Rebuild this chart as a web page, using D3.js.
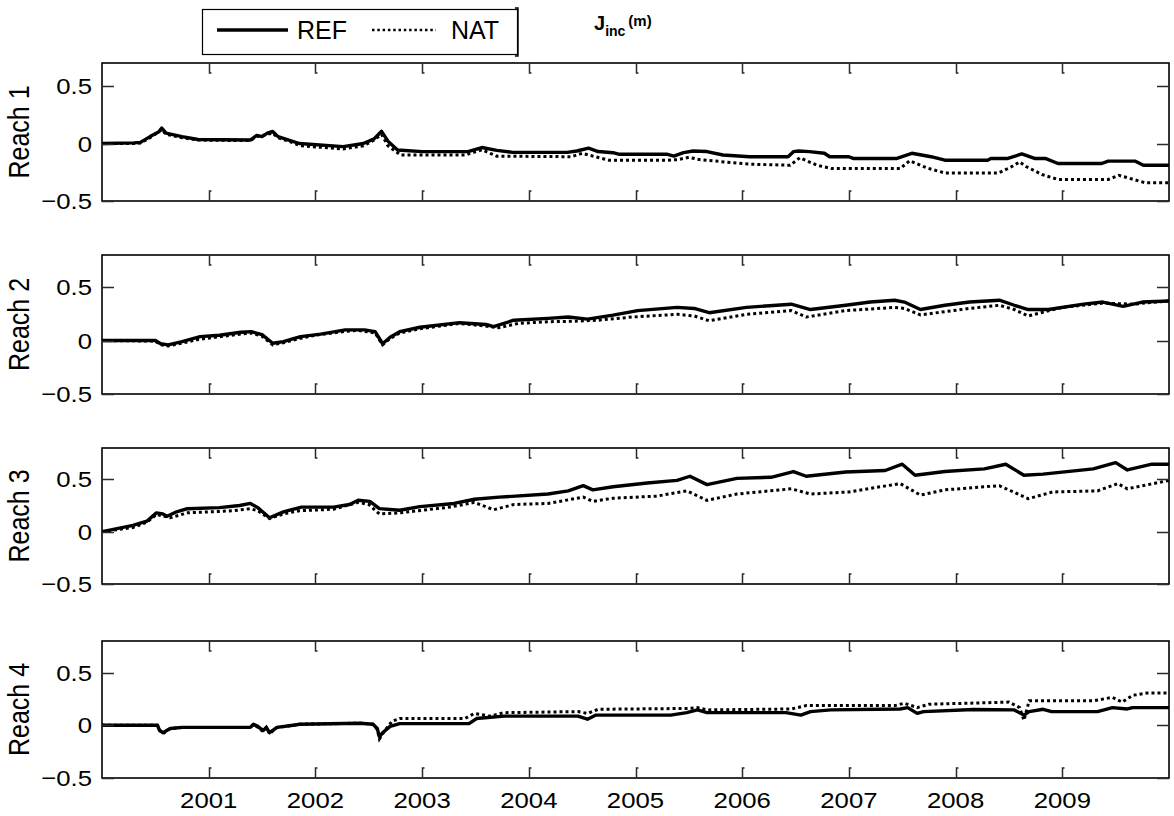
<!DOCTYPE html>
<html>
<head>
<meta charset="utf-8">
<script src="https://cdn.jsdelivr.net/npm/d3@7"></script>
<style>
  body { margin: 0; background: #fff; }
  svg { display: block; }
</style>
</head>
<body>
<svg id="chart" width="1174" height="816"></svg>
<script>
// ---- data -------------------------------------------------------------
const yearTicks = [2001, 2002, 2003, 2004, 2005, 2006, 2007, 2008, 2009];
const valueTicks = [-0.5, 0, 0.5];
const reachLabels = ["Reach 1", "Reach 2", "Reach 3", "Reach 4"];
const seriesNames = ["REF", "NAT"];

// [decimal year, J_inc (m)]
const reach1Ref = [[2000.00,0],[2000.30,0.005],[2000.36,0.01],[2000.45,0.06],[2000.53,0.1],[2000.56,0.135],[2000.60,0.09],[2000.75,0.06],[2000.90,0.035],[2001.39,0.03],[2001.45,0.07],[2001.50,0.06],[2001.55,0.09],[2001.60,0.105],[2001.65,0.06],[2001.75,0.03],[2001.85,0.0],[2002.26,-0.027],[2002.45,0.0],[2002.55,0.04],[2002.62,0.106],[2002.68,0.02],[2002.77,-0.056],[2003.00,-0.071],[2003.43,-0.071],[2003.56,-0.035],[2003.70,-0.06],[2003.85,-0.077],[2004.36,-0.077],[2004.45,-0.065],[2004.56,-0.041],[2004.65,-0.07],[2004.79,-0.08],[2004.85,-0.094],[2005.30,-0.094],[2005.36,-0.11],[2005.45,-0.08],[2005.54,-0.065],[2005.67,-0.07],[2005.82,-0.1],[2006.07,-0.115],[2006.43,-0.115],[2006.48,-0.071],[2006.53,-0.065],[2006.63,-0.071],[2006.77,-0.085],[2006.82,-0.115],[2007.00,-0.115],[2007.04,-0.13],[2007.45,-0.13],[2007.59,-0.085],[2007.77,-0.115],[2007.90,-0.145],[2008.30,-0.145],[2008.33,-0.13],[2008.49,-0.13],[2008.62,-0.091],[2008.74,-0.13],[2008.84,-0.13],[2008.96,-0.174],[2009.37,-0.174],[2009.43,-0.153],[2009.68,-0.153],[2009.76,-0.189],[2010.00,-0.189]];
const reach1Nat = [[2000.00,0],[2000.30,0.0],[2000.36,0.005],[2000.45,0.05],[2000.56,0.12],[2000.60,0.08],[2000.75,0.05],[2000.90,0.03],[2001.39,0.025],[2001.45,0.06],[2001.55,0.08],[2001.60,0.09],[2001.65,0.05],[2001.75,0.02],[2001.86,-0.02],[2002.26,-0.047],[2002.45,-0.02],[2002.55,0.03],[2002.62,0.08],[2002.68,-0.02],[2002.80,-0.1],[2003.40,-0.1],[2003.56,-0.055],[2003.70,-0.11],[2004.40,-0.115],[2004.50,-0.085],[2004.60,-0.11],[2004.75,-0.145],[2005.30,-0.145],[2005.40,-0.14],[2005.50,-0.12],[2005.60,-0.14],[2005.75,-0.153],[2006.07,-0.18],[2006.45,-0.189],[2006.54,-0.124],[2006.70,-0.189],[2006.84,-0.218],[2007.48,-0.218],[2007.57,-0.15],[2007.73,-0.212],[2007.90,-0.257],[2008.40,-0.257],[2008.52,-0.204],[2008.60,-0.16],[2008.66,-0.2],[2008.81,-0.27],[2008.96,-0.313],[2009.43,-0.313],[2009.53,-0.277],[2009.62,-0.3],[2009.78,-0.342],[2010.00,-0.342]];

const reach2Ref = [[2000.00,0],[2000.50,0],[2000.55,-0.03],[2000.62,-0.04],[2000.75,-0.01],[2000.92,0.037],[2001.10,0.05],[2001.30,0.078],[2001.40,0.083],[2001.50,0.055],[2001.60,-0.025],[2001.70,-0.01],[2001.86,0.037],[2002.05,0.06],[2002.28,0.1],[2002.46,0.1],[2002.56,0.083],[2002.63,-0.03],[2002.70,0.03],[2002.79,0.083],[2002.98,0.124],[2003.35,0.167],[2003.60,0.15],[2003.67,0.13],[2003.86,0.19],[2004.18,0.207],[2004.37,0.22],[2004.55,0.2],[2004.79,0.238],[2005.02,0.28],[2005.39,0.31],[2005.55,0.3],[2005.69,0.26],[2006.04,0.31],[2006.46,0.34],[2006.64,0.29],[2006.97,0.33],[2007.20,0.36],[2007.43,0.377],[2007.52,0.36],[2007.67,0.29],[2007.90,0.33],[2008.13,0.36],[2008.41,0.377],[2008.55,0.33],[2008.68,0.29],[2008.87,0.29],[2009.20,0.34],[2009.38,0.36],[2009.57,0.32],[2009.75,0.36],[2010.00,0.37]];
const reach2Nat = [[2000.00,0],[2000.50,-0.005],[2000.55,-0.04],[2000.62,-0.05],[2000.75,-0.025],[2000.90,0.01],[2001.10,0.035],[2001.30,0.06],[2001.40,0.07],[2001.50,0.04],[2001.60,-0.04],[2001.70,-0.02],[2001.86,0.02],[2002.00,0.05],[2002.28,0.085],[2002.40,0.095],[2002.56,0.07],[2002.63,-0.04],[2002.70,0.02],[2002.79,0.07],[2002.98,0.11],[2003.35,0.16],[2003.55,0.14],[2003.72,0.12],[2003.90,0.16],[2004.18,0.176],[2004.40,0.18],[2004.65,0.19],[2004.97,0.22],[2005.39,0.245],[2005.55,0.23],[2005.69,0.185],[2006.04,0.245],[2006.46,0.28],[2006.60,0.22],[2006.97,0.28],[2007.43,0.31],[2007.52,0.3],[2007.67,0.24],[2008.13,0.3],[2008.41,0.33],[2008.55,0.29],[2008.68,0.23],[2009.00,0.31],[2009.38,0.35],[2009.66,0.34],[2010.00,0.37]];

const reach3Ref = [[2000.00,0],[2000.29,0.06],[2000.42,0.10],[2000.51,0.18],[2000.57,0.17],[2000.61,0.147],[2000.70,0.19],[2000.80,0.22],[2001.10,0.23],[2001.29,0.25],[2001.39,0.27],[2001.46,0.23],[2001.57,0.133],[2001.70,0.19],[2001.87,0.235],[2002.17,0.235],[2002.32,0.26],[2002.40,0.30],[2002.51,0.29],[2002.60,0.22],[2002.79,0.205],[2002.98,0.24],[2003.30,0.27],[2003.49,0.31],[2003.72,0.33],[2004.18,0.36],[2004.37,0.39],[2004.51,0.44],[2004.60,0.40],[2004.79,0.43],[2005.11,0.465],[2005.39,0.49],[2005.51,0.53],[2005.67,0.45],[2005.95,0.51],[2006.27,0.52],[2006.48,0.575],[2006.60,0.53],[2006.97,0.57],[2007.34,0.585],[2007.50,0.645],[2007.62,0.54],[2007.90,0.575],[2008.27,0.60],[2008.47,0.645],[2008.64,0.54],[2008.82,0.55],[2009.29,0.60],[2009.50,0.66],[2009.61,0.59],[2009.84,0.645],[2010.00,0.645]];
const reach3Nat = [[2000.00,0],[2000.29,0.04],[2000.42,0.09],[2000.51,0.165],[2000.64,0.133],[2000.80,0.18],[2001.23,0.20],[2001.39,0.22],[2001.46,0.2],[2001.57,0.125],[2001.70,0.17],[2001.85,0.20],[2002.17,0.215],[2002.40,0.28],[2002.50,0.26],[2002.60,0.17],[2002.79,0.18],[2003.26,0.235],[2003.49,0.28],[2003.67,0.21],[2003.86,0.26],[2004.18,0.27],[2004.51,0.33],[2004.60,0.29],[2004.79,0.32],[2005.20,0.34],[2005.48,0.39],[2005.67,0.30],[2005.95,0.36],[2006.46,0.41],[2006.64,0.36],[2007.00,0.38],[2007.48,0.46],[2007.67,0.35],[2007.90,0.40],[2008.41,0.44],[2008.68,0.315],[2008.91,0.38],[2009.33,0.39],[2009.52,0.46],[2009.61,0.41],[2010.00,0.49]];

const reach4Ref = [[2000.00,0],[2000.52,0],[2000.54,-0.05],[2000.57,-0.07],[2000.64,-0.03],[2000.75,-0.02],[2001.39,-0.02],[2001.42,0.01],[2001.46,-0.01],[2001.51,-0.05],[2001.54,-0.02],[2001.57,-0.07],[2001.64,-0.02],[2001.79,0.0],[2001.85,0.01],[2002.42,0.02],[2002.54,0.01],[2002.58,-0.03],[2002.60,-0.11],[2002.63,-0.07],[2002.70,-0.01],[2002.79,0.016],[2003.44,0.016],[2003.51,0.064],[2003.77,0.087],[2004.46,0.087],[2004.55,0.058],[2004.63,0.097],[2005.33,0.097],[2005.48,0.12],[2005.58,0.146],[2005.67,0.12],[2006.41,0.12],[2006.55,0.097],[2006.64,0.13],[2006.83,0.146],[2007.48,0.155],[2007.55,0.168],[2007.64,0.113],[2007.70,0.13],[2008.17,0.15],[2008.55,0.146],[2008.64,0.097],[2008.69,0.13],[2008.82,0.152],[2008.90,0.13],[2009.33,0.13],[2009.47,0.168],[2009.61,0.155],[2009.66,0.168],[2010.00,0.168]];
const reach4Nat = [[2000.00,0],[2000.52,0],[2000.54,-0.04],[2000.57,-0.08],[2000.64,-0.03],[2000.75,-0.02],[2001.39,-0.02],[2001.42,0.01],[2001.46,-0.02],[2001.51,-0.06],[2001.54,-0.02],[2001.57,-0.08],[2001.64,-0.02],[2001.79,0.0],[2001.85,0.01],[2002.42,0.02],[2002.54,0.01],[2002.58,-0.04],[2002.60,-0.13],[2002.65,-0.05],[2002.72,0.04],[2002.79,0.064],[2003.40,0.064],[2003.49,0.113],[2003.63,0.087],[2003.77,0.12],[2004.46,0.13],[2004.55,0.113],[2004.65,0.152],[2005.48,0.16],[2005.58,0.168],[2005.67,0.146],[2006.46,0.155],[2006.60,0.187],[2007.43,0.187],[2007.52,0.21],[2007.64,0.168],[2007.75,0.2],[2008.50,0.22],[2008.60,0.168],[2008.64,0.048],[2008.69,0.233],[2009.29,0.233],[2009.47,0.265],[2009.56,0.22],[2009.66,0.285],[2009.80,0.307],[2010.00,0.307]];

const yearRange = [2000, 2010];
const reachDomains = [[-0.5, 0.7], [-0.5, 0.8], [-0.5, 0.8], [-0.5, 0.8]];
const reachSeries = [
  [reach1Ref, reach1Nat],
  [reach2Ref, reach2Nat],
  [reach3Ref, reach3Nat],
  [reach4Ref, reach4Nat]
];

// ---- layout -----------------------------------------------------------
const svg = d3.select("#chart");
const FONT = "'Liberation Sans', Arial, sans-serif";
const left = 102, right = 1169;
const panelTops = [63, 255, 448, 641];
const panelBottoms = [201, 394, 584, 778];
const stretch = 1.12;   // glyphs are drawn slightly wide

const x = d3.scaleLinear().domain(yearRange).range([left, right]);

function stretchedText(g, tx, ty, str, size, anchor, weight) {
  return g.append("text")
    .attr("transform", `translate(${tx},${ty}) scale(${stretch},1)`)
    .attr("text-anchor", anchor)
    .attr("font-family", FONT)
    .attr("font-size", size)
    .attr("font-weight", weight || "normal")
    .attr("fill", "#000")
    .text(str);
}

const line = d3.line().curve(d3.curveLinear);

reachLabels.forEach((label, i) => {
  const top = panelTops[i], bottom = panelBottoms[i];
  const y = d3.scaleLinear().domain(reachDomains[i]).range([bottom, top]);
  const g = svg.append("g");

  // series
  const clipId = "clip" + i;
  g.append("clipPath").attr("id", clipId)
    .append("rect").attr("x", left).attr("y", top).attr("width", right - left).attr("height", bottom - top);
  line.x(d => x(d[0])).y(d => y(d[1]));
  const [ref, nat] = reachSeries[i];
  g.append("path").attr("clip-path", `url(#${clipId})`)
    .attr("d", line(nat)).attr("fill", "none").attr("stroke", "#000")
    .attr("stroke-width", 3).attr("stroke-dasharray", "3,3");
  g.append("path").attr("clip-path", `url(#${clipId})`)
    .attr("d", line(ref)).attr("fill", "none").attr("stroke", "#000")
    .attr("stroke-width", 3.4).attr("stroke-linejoin", "round");

  // frame
  g.append("rect").attr("x", left).attr("y", top)
    .attr("width", right - left).attr("height", bottom - top)
    .attr("fill", "none").attr("stroke", "#000").attr("stroke-width", 1.6);

  // inward tick marks on all four sides, with a short end serif
  const tickG = g.append("g").attr("fill", "none").attr("stroke", "#2a2a2a").attr("stroke-width", 1.5);
  yearTicks.forEach(yr => {
    const px = Math.round(x(yr)) + 0.5;
    tickG.append("path").attr("d", `M${px},${top} V${top + 10} h2`);
    tickG.append("path").attr("d", `M${px + 2},${bottom - 10} h-2 V${bottom}`);
  });
  valueTicks.forEach(v => {
    const py = Math.round(y(v)) + 0.5;
    tickG.append("path").attr("d", `M${left},${py} H${left + 12}`);
    tickG.append("path").attr("d", `M${right},${py} H${right - 12}`);
  });

  // value tick labels
  valueTicks.forEach(v => {
    stretchedText(g, 92, y(v) + 8, v === 0 ? "0" : d3.format(".1f")(v), 23, "end");
  });

  // reach label
  g.append("text")
    .attr("transform", `translate(29,${(top + bottom) / 2}) scale(1.15,1) rotate(-90)`)
    .attr("text-anchor", "middle")
    .attr("font-family", FONT).attr("font-size", 25).attr("fill", "#000")
    .text(label);

  // year labels under the last panel
  if (i === reachLabels.length - 1) {
    yearTicks.forEach(yr => {
      stretchedText(g, x(yr), 808, String(yr), 23, "middle");
    });
  }
});

// ---- legend -----------------------------------------------------------
const lg = svg.append("g");
lg.append("rect").attr("x", 202.5).attr("y", 9.5).attr("width", 315).attr("height", 45)
  .attr("fill", "#fff").attr("stroke", "#000").attr("stroke-width", 1.2);
lg.append("path").attr("d", "M515,8 h3 V56 h-3").attr("fill", "none").attr("stroke", "#000").attr("stroke-width", 1.4);
lg.append("line").attr("x1", 217).attr("x2", 288).attr("y1", 30).attr("y2", 30)
  .attr("stroke", "#000").attr("stroke-width", 3.4);
lg.append("line").attr("x1", 372).attr("x2", 436).attr("y1", 30).attr("y2", 30)
  .attr("stroke", "#000").attr("stroke-width", 2.6).attr("stroke-dasharray", "2.5,2.8");
lg.append("text").attr("x", 297).attr("y", 39).attr("font-family", FONT).attr("font-size", 25).text(seriesNames[0]);
lg.append("text").attr("x", 451).attr("y", 39).attr("font-family", FONT).attr("font-size", 25).text(seriesNames[1]);

// ---- title ------------------------------------------------------------
const title = svg.append("text")
  .attr("x", 594).attr("y", 30)
  .attr("font-family", FONT).attr("font-weight", "bold").attr("fill", "#000");
title.append("tspan").attr("font-size", 20).text("J");
title.append("tspan").attr("font-size", 14).attr("dy", 6).text("inc");
title.append("tspan").attr("font-size", 15).attr("dy", -10).attr("dx", 3).text("(m)");
</script>
</body>
</html>
